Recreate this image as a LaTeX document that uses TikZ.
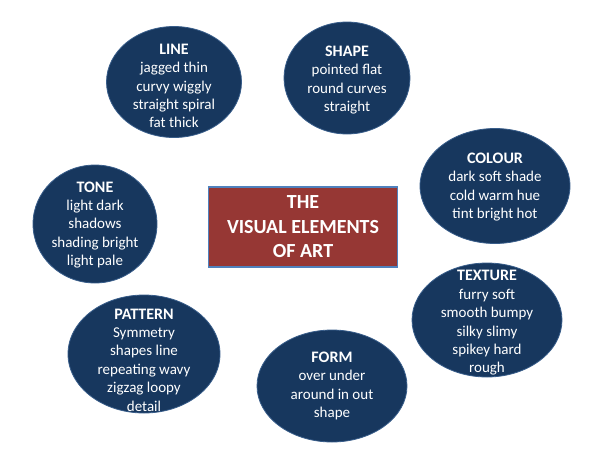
\documentclass[tikz,border=0pt]{standalone}
\usepackage{fontspec}
\setmainfont{Carlito}
\usetikzlibrary{shapes.geometric}
\definecolor{elemnavy}{RGB}{23,55,94}
\definecolor{elemedge}{RGB}{56,93,138}
\definecolor{titlered}{RGB}{150,55,52}
\definecolor{titleedge}{RGB}{79,129,189}

\newcommand{\elemhead}[1]{{\fontsize{16}{18.4}\selectfont\bfseries #1}}

\tikzset{
    element/.style={ellipse, fill=elemnavy, draw=elemedge, line width=0.8pt,
        inner sep=0pt},
    elemtext/.style={text=white, align=center, inner sep=0pt,
        font=\fontsize{15}{18.4}\selectfont},
    centrebox/.style={rectangle, fill=titlered, draw=titleedge, line width=1.2pt,
        minimum width=189pt, minimum height=80pt, inner sep=0pt,
        text=white, align=center, font=\fontsize{20}{24.5}\selectfont\bfseries}
}

\begin{document}
\begin{tikzpicture}[x=1pt, y=-1pt]
    \useasboundingbox (0,0) rectangle (600,450);

    % centre of the diagram
    \node[centrebox] (art) at (303,227) {THE\\VISUAL ELEMENTS\\OF ART};

    % the seven elements round it
    \node[element, minimum width=135pt, minimum height=111pt] (line) at (174,82) {};
    \node[elemtext] at ([yshift=-4pt]line.center)
        {\elemhead{LINE}\\jagged thin\\curvy wiggly\\straight spiral\\fat thick};

    \node[element, minimum width=126pt, minimum height=112pt] (shape) at (347,78) {};
    \node[elemtext] at ([yshift=-2pt]shape.center)
        {\elemhead{SHAPE}\\pointed flat\\round curves\\straight};

    \node[element, minimum width=150pt, minimum height=115pt] (colour) at (495,186) {};
    \node[elemtext] at ([yshift=-1pt]colour.center)
        {\elemhead{COLOUR}\\dark soft shade\\cold warm hue\\tint bright hot};

    \node[element, minimum width=124pt, minimum height=118pt] (tone) at (95,224) {};
    \node[elemtext] at ([yshift=-1pt]tone.center)
        {\elemhead{TONE}\\light dark\\shadows\\shading bright\\light pale};

    \node[element, minimum width=150pt, minimum height=114pt] (texture) at (487,320) {};
    \node[elemtext] at ([yshift=-3pt]texture.center)
        {\elemhead{TEXTURE}\\furry soft\\smooth bumpy\\silky slimy\\spikey hard\\rough};

    \node[element, minimum width=152pt, minimum height=118pt] (pattern) at (144,354) {};
    \node[elemtext] at ([yshift=-6pt]pattern.center)
        {\elemhead{PATTERN}\\Symmetry\\shapes line\\repeating wavy\\zigzag loopy\\detail};

    \node[element, minimum width=150pt, minimum height=112pt] (form) at (332,386) {};
    \node[elemtext] at (form.center)
        {\elemhead{FORM}\\over under\\around in out\\shape};
\end{tikzpicture}
\end{document}
